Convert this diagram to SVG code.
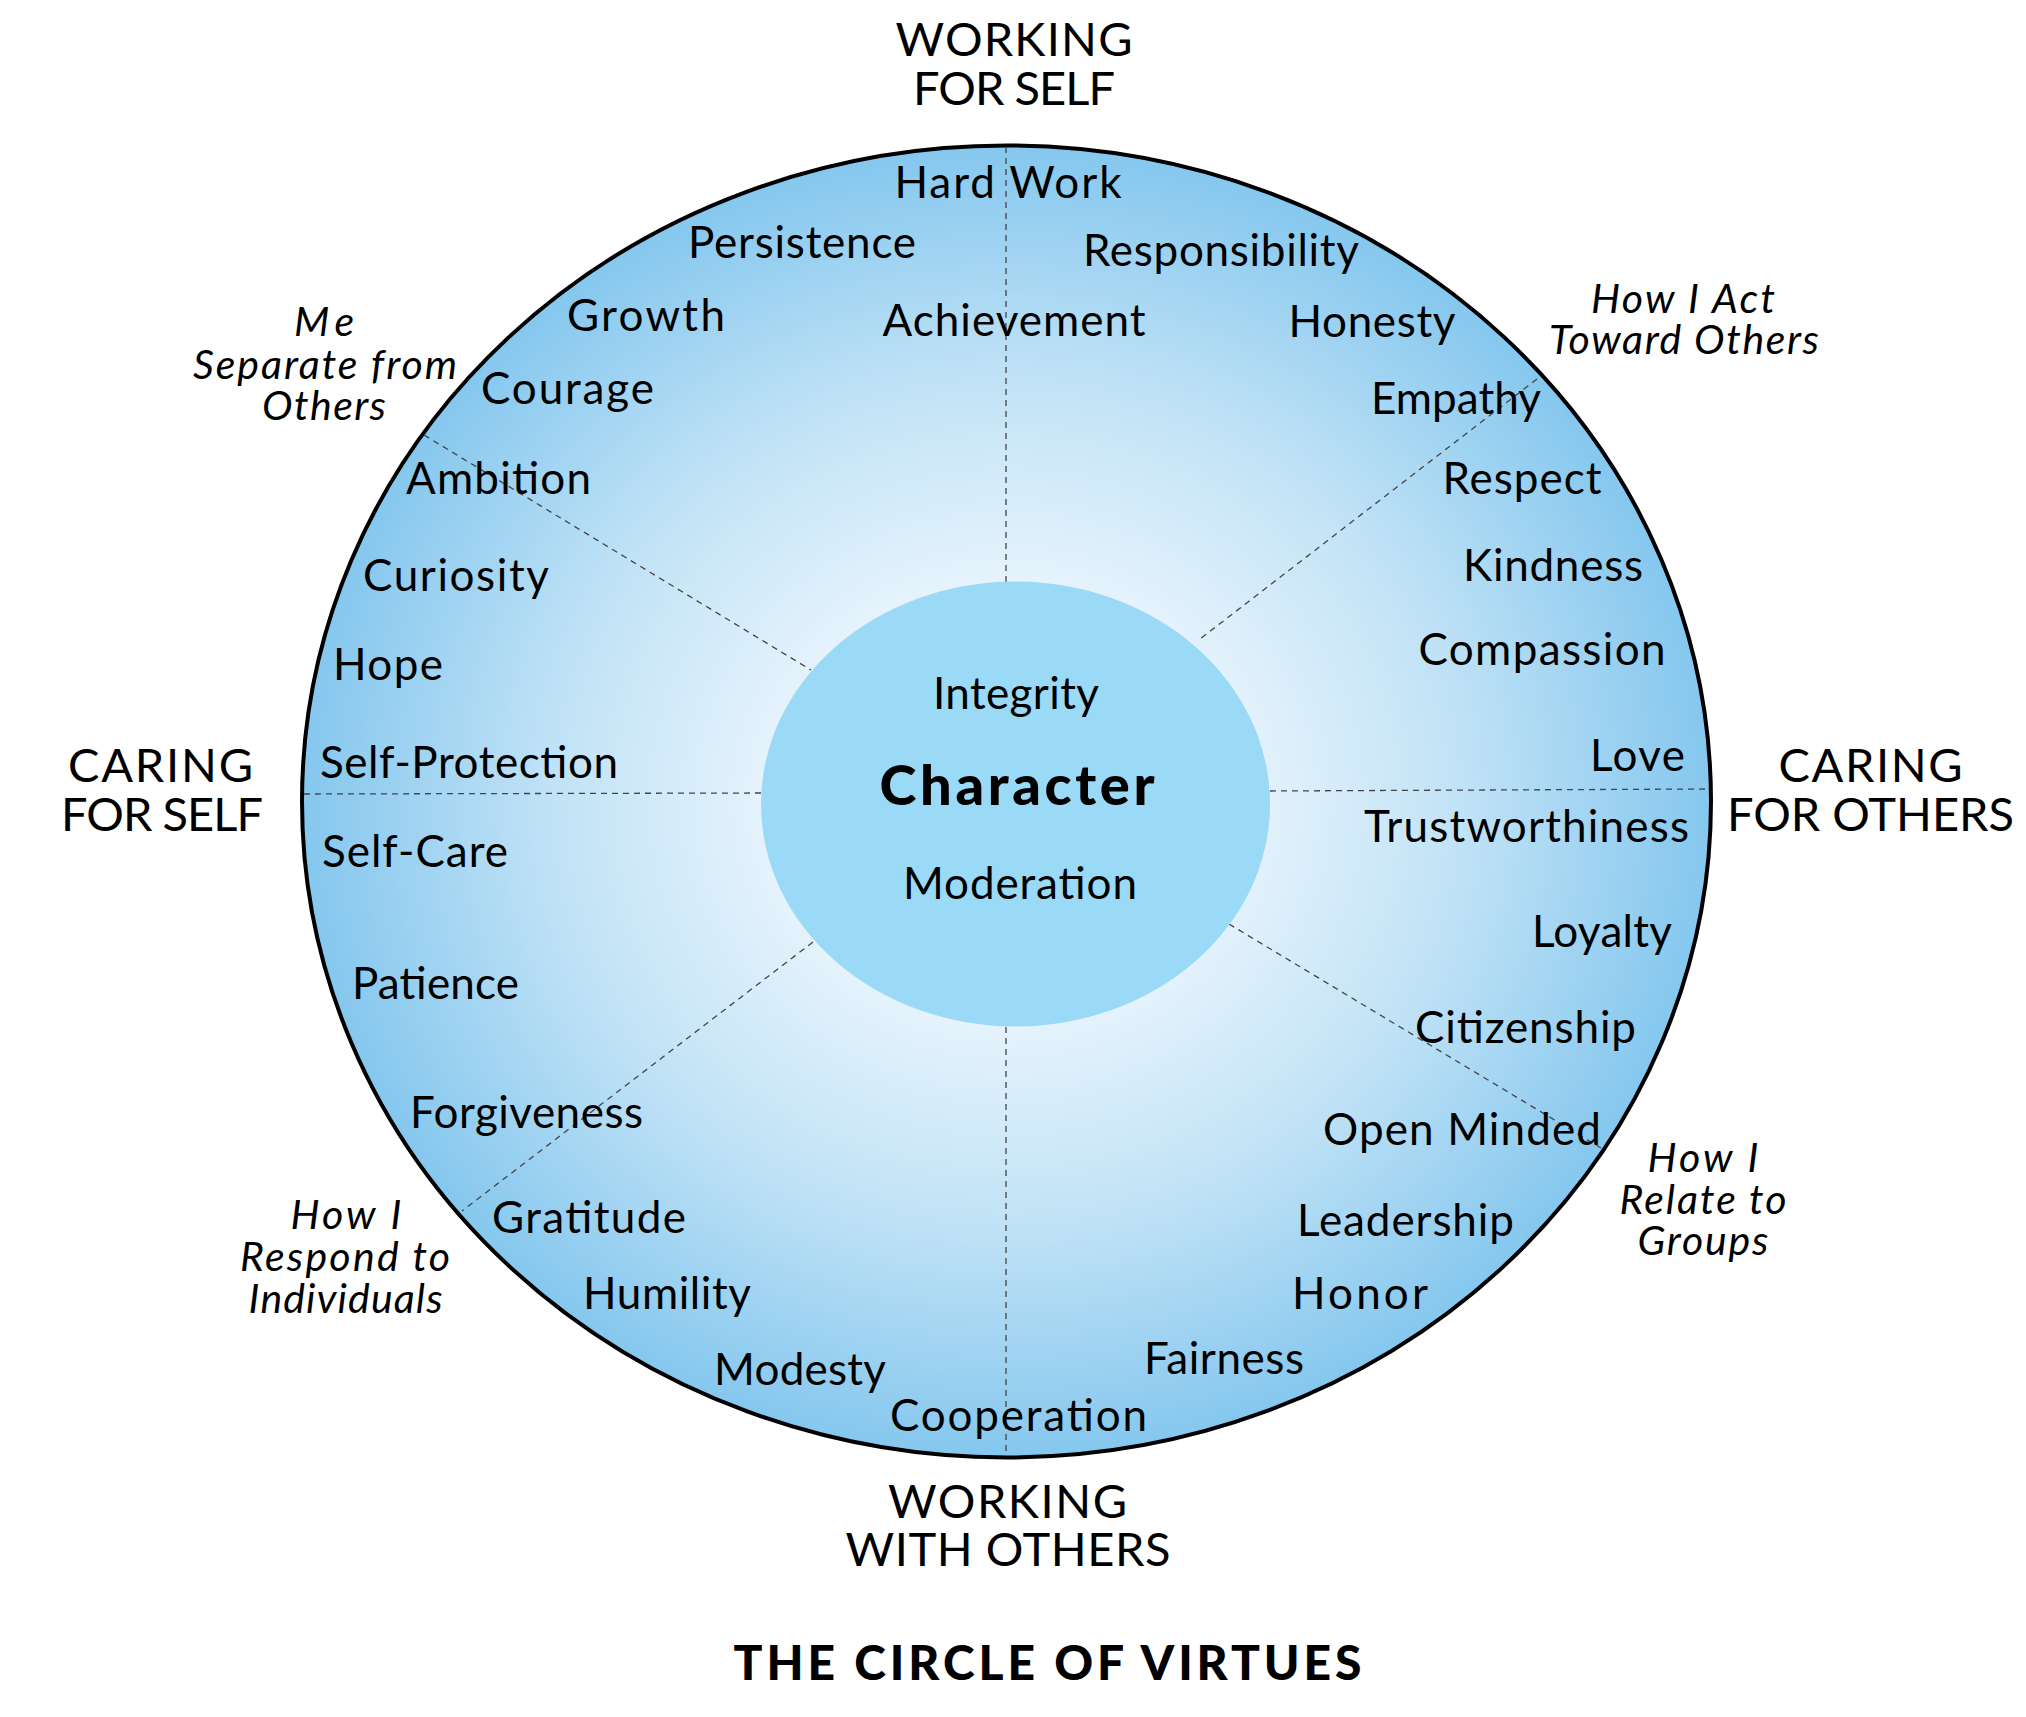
<svg xmlns="http://www.w3.org/2000/svg" width="2026" height="1717" viewBox="0 0 2026 1717">
<defs>
<radialGradient id="outerGrad" cx="0.5" cy="0.5" r="0.5">
<stop offset="0" stop-color="#f6fbfe"/>
<stop offset="0.3" stop-color="#eaf5fd"/>
<stop offset="0.65" stop-color="#c0e2f6"/>
<stop offset="1" stop-color="#85c7ee"/>
</radialGradient>
<style>
.v{font-family:Lato,"Open Sans","Liberation Sans",sans-serif;font-size:44px;fill:#000;text-anchor:middle}
.c{font-family:Lato,"Open Sans","Liberation Sans",sans-serif;font-size:47px;fill:#000;text-anchor:middle}
.i{font-family:Lato,"Open Sans","Liberation Sans",sans-serif;font-size:41px;font-style:italic;fill:#000;text-anchor:middle}
.b{font-family:Lato,"Open Sans","Liberation Sans",sans-serif;font-weight:900;fill:#000;text-anchor:middle}
.d{stroke:#444;stroke-width:1.3;stroke-dasharray:6 5;fill:none}
</style>
</defs>
<rect width="2026" height="1717" fill="#fff"/>
<g id="outer-circle">
<ellipse cx="1006.5" cy="801.5" rx="704.5" ry="656" fill="url(#outerGrad)" stroke="#000" stroke-width="4"/>
</g>
<g id="connectors">
<line class="d" x1="1006" y1="147" x2="1006" y2="582"/>
<line class="d" x1="1006" y1="1027" x2="1006" y2="1456"/>
<line class="d" x1="304" y1="794" x2="761" y2="793"/>
<line class="d" x1="1270" y1="791" x2="1709" y2="789"/>
<line class="d" x1="424" y1="435" x2="811" y2="670"/>
<line class="d" x1="1537" y1="379" x2="1200" y2="639"/>
<line class="d" x1="813" y1="942" x2="462" y2="1211"/>
<line class="d" x1="1229" y1="924" x2="1601" y2="1148"/>
</g>
<g id="center">
<ellipse cx="1015.5" cy="804" rx="254.5" ry="222.5" fill="#9adaf7"/>
<text class="v" x="1016" y="709" textLength="166">Integrity</text>
<text class="b" x="1017" y="805" font-size="56" textLength="275">Character</text>
<text class="v" x="1020" y="899" textLength="234">Moderation</text>
</g>
<g id="working-for-self">
<text class="c" x="1014" y="56" textLength="237">WORKING</text>
<text class="c" x="1014" y="105" textLength="202">FOR SELF</text>
<text class="v" x="1008" y="198" textLength="227">Hard Work</text>
<text class="v" x="802" y="258" textLength="228">Persistence</text>
<text class="v" x="646" y="331" textLength="158">Growth</text>
<text class="v" x="567.5" y="404" textLength="173">Courage</text>
<text class="v" x="1014" y="336" textLength="263">Achievement</text>
<text class="v" x="1221" y="266" textLength="276">Responsibility</text>
<text class="v" x="1372" y="337" textLength="167">Honesty</text>
<text class="v" x="1456" y="414" textLength="170">Empathy</text>
</g>
<g id="caring-for-others">
<text class="c" x="1870.5" y="782" textLength="184">CARING</text>
<text class="c" x="1870.5" y="831" textLength="287">FOR OTHERS</text>
<text class="v" x="1522" y="494" textLength="159">Respect</text>
<text class="v" x="1553" y="581" textLength="180">Kindness</text>
<text class="v" x="1542" y="665" textLength="247">Compassion</text>
<text class="v" x="1637.5" y="771" textLength="95">Love</text>
<text class="v" x="1526.5" y="842" textLength="325">Trustworthiness</text>
<text class="v" x="1602" y="947" textLength="140">Loyalty</text>
<text class="v" x="1525.5" y="1043" textLength="221">Citizenship</text>
</g>
<g id="working-with-others">
<text class="c" x="1007.5" y="1518" textLength="239">WORKING</text>
<text class="c" x="1008" y="1566" textLength="325">WITH OTHERS</text>
<text class="v" x="1462" y="1145" textLength="278">Open Minded</text>
<text class="v" x="1405.5" y="1236" textLength="217">Leadership</text>
<text class="v" x="1360" y="1309" textLength="136">Honor</text>
<text class="v" x="1224" y="1374" textLength="160">Fairness</text>
<text class="v" x="1018.5" y="1431" textLength="257">Cooperation</text>
<text class="v" x="800" y="1385" textLength="172">Modesty</text>
<text class="v" x="667" y="1309" textLength="168">Humility</text>
<text class="v" x="589" y="1233" textLength="194">Gratitude</text>
</g>
<g id="caring-for-self">
<text class="c" x="160.5" y="782" textLength="185">CARING</text>
<text class="c" x="162" y="831" textLength="202">FOR SELF</text>
<text class="v" x="526.5" y="1128" textLength="233">Forgiveness</text>
<text class="v" x="435.5" y="999" textLength="167">Patience</text>
<text class="v" x="415" y="867" textLength="186">Self-Care</text>
<text class="v" x="469" y="778" textLength="298">Self-Protection</text>
<text class="v" x="388" y="680" textLength="110">Hope</text>
<text class="v" x="456" y="591" textLength="186">Curiosity</text>
<text class="v" x="498.5" y="494" textLength="185">Ambition</text>
</g>
<g id="label-me-separate">
<text class="i" x="324" y="336" textLength="60">Me</text>
<text class="i" x="325" y="378.5" textLength="264">Separate from</text>
<text class="i" x="324" y="420" textLength="124">Others</text>
</g>
<g id="label-act-toward-others">
<text class="i" x="1683" y="313" textLength="184">How I Act</text>
<text class="i" x="1684" y="354" textLength="270">Toward Others</text>
</g>
<g id="label-respond-individuals">
<text class="i" x="346" y="1229" textLength="111">How I</text>
<text class="i" x="345" y="1271" textLength="210">Respond to</text>
<text class="i" x="345.6" y="1312.5" textLength="194">Individuals</text>
</g>
<g id="label-relate-groups">
<text class="i" x="1703" y="1171.5" textLength="111">How I</text>
<text class="i" x="1703" y="1214" textLength="167">Relate to</text>
<text class="i" x="1703" y="1254.5" textLength="131">Groups</text>
</g>
<g id="title">
<text class="b" x="1047.5" y="1680" font-size="48" textLength="628">THE CIRCLE OF VIRTUES</text>
</g>
</svg>
